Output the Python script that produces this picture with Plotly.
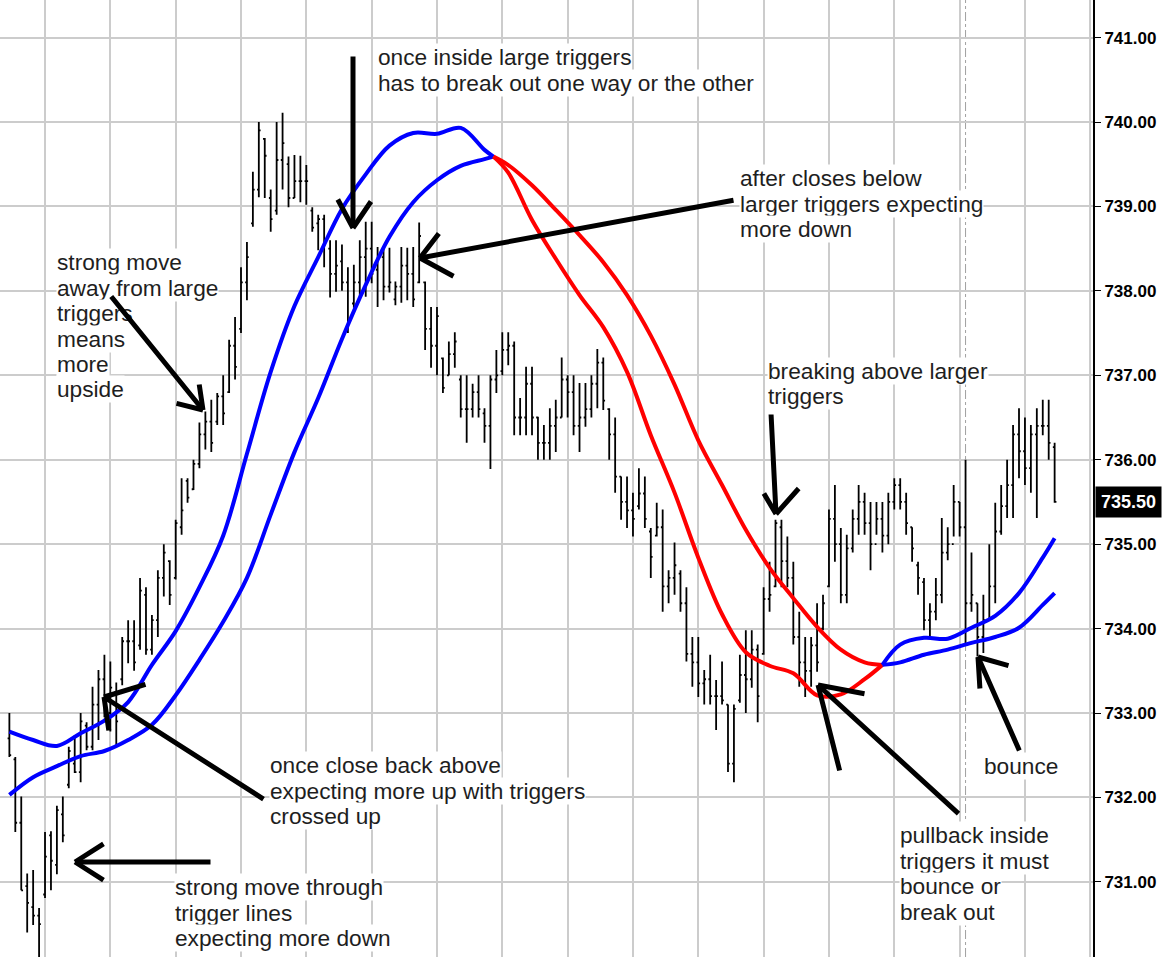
import plotly.graph_objects as go

# one bar per 5 minutes, bar index 0..176
highs = [733.00, 732.48, 732.01, 731.10, 731.14, 730.69, 731.59, 731.60, 731.90, 732.01,
         732.60, 732.74, 733.00, 732.89, 733.31, 733.51, 733.69, 733.61, 733.36, 733.90,
         734.10, 734.10, 734.60, 734.49, 734.16, 734.69, 735.00, 734.81, 735.29, 735.78,
         735.78, 736.00, 736.44, 736.57, 736.71, 736.79, 737.00, 737.42, 737.69, 738.28,
         738.58, 739.41, 740.00, 739.81, 739.20, 740.00, 740.11, 739.59, 739.61, 739.60,
         739.49, 738.99, 738.90, 738.90, 738.60, 738.60, 738.55, 738.28, 738.31, 738.60,
         738.82, 738.82, 738.52, 738.52, 738.51, 738.11, 738.52, 738.51, 738.52, 738.81,
         738.11, 737.81, 737.81, 737.21, 737.40, 737.51, 737.00, 737.00, 736.90, 737.00,
         736.61, 737.00, 737.30, 737.51, 737.51, 737.40, 736.73, 737.10, 737.10, 736.51,
         736.41, 736.61, 736.71, 737.21, 737.00, 737.00, 736.91, 736.91, 737.00, 737.31,
         737.21, 736.61, 736.50, 735.80, 735.80, 735.61, 735.90, 735.80, 735.19, 735.49,
         735.41, 734.69, 735.02, 734.69, 734.49, 733.90, 733.90, 733.51, 733.69, 733.39,
         733.61, 733.10, 733.10, 733.69, 733.98, 733.98, 733.81, 734.49, 734.79, 735.29,
         735.29, 735.09, 734.79, 734.20, 733.90, 733.90, 734.30, 734.40, 735.41, 735.70,
         735.19, 735.11, 735.41, 735.70, 735.61, 735.50, 735.50, 735.50, 735.61, 735.78,
         735.78, 735.61, 735.20, 734.79, 734.60, 734.30, 734.60, 735.31, 735.20, 735.70,
         735.50, 736.00, 734.90, 734.30, 734.40, 735.00, 735.49, 735.70, 736.00, 736.41,
         736.61, 736.50, 736.41, 736.61, 736.71, 736.71, 736.20]
lows = [732.48, 731.59, 730.90, 730.40, 730.49, 730.10, 730.81, 730.90, 731.09, 731.47,
        732.11, 732.29, 732.18, 732.56, 732.56, 732.68, 732.95, 732.78, 732.60, 733.33,
        733.59, 733.50, 733.75, 733.69, 733.69, 733.90, 734.38, 734.28, 734.58, 735.11,
        735.49, 735.64, 735.90, 736.12, 736.09, 736.41, 736.41, 736.79, 736.95, 737.50,
        737.89, 738.76, 739.11, 739.10, 738.70, 738.90, 739.20, 738.99, 739.10, 739.05,
        739.02, 738.70, 738.48, 738.28, 737.92, 737.99, 738.00, 737.50, 737.80, 737.92,
        737.93, 738.09, 737.81, 737.89, 737.98, 737.83, 737.86, 737.89, 737.81, 738.09,
        737.30, 737.09, 737.00, 736.79, 737.00, 737.09, 736.50, 736.20, 736.50, 736.50,
        736.20, 735.89, 736.79, 737.00, 737.12, 736.29, 736.29, 736.29, 736.29, 736.00,
        736.00, 736.00, 736.09, 736.50, 736.50, 736.29, 736.09, 736.39, 736.50, 736.61,
        736.59, 736.00, 735.61, 735.29, 735.19, 735.09, 735.41, 735.19, 734.60, 735.09,
        734.20, 734.30, 734.40, 734.20, 733.61, 733.31, 733.19, 733.10, 733.10, 732.80,
        733.10, 732.30, 732.18, 733.12, 733.00, 733.30, 732.89, 733.69, 734.20, 734.49,
        734.49, 734.49, 733.81, 733.31, 733.19, 733.31, 733.49, 733.98, 734.49, 734.79,
        734.30, 734.30, 734.90, 735.11, 735.11, 734.69, 735.11, 734.90, 735.00, 735.41,
        735.41, 735.11, 734.79, 734.40, 733.98, 733.90, 734.10, 734.30, 734.81, 735.09,
        735.09, 733.83, 734.20, 733.67, 733.71, 734.10, 734.30, 735.11, 735.31, 735.31,
        735.78, 735.70, 735.61, 735.31, 736.29, 736.00, 735.49]
opens = [732.70, 732.45, 731.70, 730.95, 730.70, 730.60, 730.85, 731.55, 731.20, 731.80,
         732.15, 732.40, 732.30, 732.85, 732.60, 733.10, 733.40, 733.00, 733.25, 733.40,
         733.85, 733.85, 733.80, 734.40, 733.75, 734.10, 734.60, 734.80, 734.60, 735.20,
         735.75, 735.65, 735.95, 736.30, 736.45, 736.45, 736.75, 736.80, 737.35, 737.55,
         738.10, 738.80, 739.20, 739.80, 739.10, 738.95, 739.55, 739.50, 739.10, 739.30,
         739.30, 738.95, 738.80, 738.85, 738.50, 738.20, 738.35, 738.10, 737.85, 738.10,
         738.40, 738.50, 738.25, 738.40, 738.05, 737.90, 738.05, 738.30, 738.20, 738.10,
         738.10, 737.55, 737.35, 737.20, 737.00, 737.25, 736.95, 736.60, 736.60, 736.80,
         736.55, 736.40, 736.95, 737.05, 737.30, 737.35, 736.50, 736.50, 736.90, 736.50,
         736.20, 736.20, 736.40, 736.50, 736.95, 736.80, 736.40, 736.50, 736.60, 736.90,
         737.15, 736.60, 736.30, 735.80, 735.50, 735.40, 735.45, 735.60, 735.15, 735.10,
         735.20, 734.50, 734.60, 734.65, 734.30, 733.70, 733.60, 733.35, 733.40, 733.20,
         733.20, 733.10, 732.40, 733.15, 733.45, 733.40, 733.75, 733.70, 734.35, 734.50,
         735.20, 734.80, 734.60, 733.90, 733.60, 733.50, 733.80, 734.00, 734.50, 735.30,
         735.00, 734.40, 734.95, 735.30, 735.50, 735.25, 735.00, 735.30, 735.10, 735.50,
         735.70, 735.50, 735.20, 734.75, 734.55, 734.10, 734.20, 734.40, 734.90, 735.00,
         735.50, 735.20, 734.30, 734.30, 733.90, 734.10, 734.50, 735.15, 735.45, 735.70,
         736.30, 736.10, 735.90, 736.30, 736.40, 736.40, 736.15]
closes = [732.50, 731.70, 730.90, 730.75, 730.60, 730.50, 731.30, 731.25, 731.85, 731.55,
          732.55, 732.30, 732.90, 732.60, 733.10, 733.40, 733.00, 733.30, 732.90, 733.85,
          733.85, 733.60, 734.45, 733.75, 734.10, 734.60, 734.90, 734.40, 735.25, 735.40,
          735.55, 735.95, 736.30, 736.45, 736.20, 736.75, 736.55, 737.35, 737.10, 738.10,
          738.40, 739.20, 739.90, 739.60, 738.85, 739.55, 739.75, 739.10, 739.30, 739.30,
          739.30, 738.75, 738.85, 738.55, 738.20, 738.30, 738.10, 737.65, 738.10, 738.40,
          738.50, 738.20, 738.40, 738.05, 738.10, 738.05, 738.30, 738.20, 737.90, 738.65,
          737.55, 737.35, 737.70, 736.85, 737.25, 737.40, 736.60, 736.60, 736.80, 736.60,
          736.40, 736.95, 737.00, 737.30, 737.35, 736.50, 736.50, 736.90, 736.50, 736.20,
          736.20, 736.40, 736.50, 736.95, 736.80, 736.40, 736.50, 736.60, 736.90, 737.15,
          736.70, 736.30, 735.80, 735.50, 735.40, 735.30, 735.60, 735.30, 734.85, 735.20,
          734.50, 734.60, 734.75, 734.30, 733.70, 733.60, 733.35, 733.40, 733.20, 733.20,
          733.15, 732.40, 733.05, 733.45, 733.40, 733.75, 733.20, 734.35, 734.40, 735.25,
          734.80, 734.60, 733.90, 733.60, 733.50, 733.80, 733.60, 734.30, 735.30, 735.00,
          734.40, 734.95, 735.30, 735.50, 735.25, 735.00, 735.30, 735.10, 735.50, 735.70,
          735.50, 735.25, 734.95, 734.60, 734.10, 734.20, 734.40, 734.90, 735.00, 735.50,
          735.20, 734.30, 734.40, 733.90, 734.10, 734.50, 735.15, 735.45, 735.70, 736.30,
          736.10, 735.90, 736.30, 736.40, 736.40, 736.20, 735.50]

# trigger lines (fast / slow), read every few bars
ma_x = [0, 4, 8, 12, 16, 20, 24, 28, 32, 36, 40, 44, 48, 52, 56, 60, 64, 68, 72, 76, 80,
        81.5, 84, 88, 92, 96, 100, 104, 108, 112, 116, 120, 124, 128, 132, 136, 140, 144,
        147, 150, 154, 158, 162, 166, 170, 174, 176]
fast_ma = [732.78, 732.68, 732.61, 732.76, 732.91, 733.13, 733.57, 733.97, 734.49, 735.10,
           736.07, 737.04, 737.82, 738.40, 738.97, 739.38, 739.72, 739.87, 739.86, 739.93,
           739.67, 739.59, 739.40, 738.84, 738.38, 737.95, 737.57, 737.04, 736.29, 735.61,
           734.84, 734.17, 733.72, 733.56, 733.47, 733.21, 733.22, 733.40, 733.57, 733.81,
           733.89, 733.88, 734.01, 734.15, 734.42, 734.84, 735.07]
slow_ma = [732.03, 732.24, 732.37, 732.49, 732.55, 732.68, 732.86, 733.21, 733.63, 734.08,
           734.60, 735.35, 736.09, 736.73, 737.43, 738.07, 738.64, 739.05, 739.31, 739.48,
           739.56, 739.59, 739.49, 739.25, 738.96, 738.66, 738.34, 737.95, 737.47, 736.89,
           736.23, 735.70, 735.17, 734.72, 734.36, 734.02, 733.75, 733.60, 733.57, 733.60,
           733.69, 733.75, 733.83, 733.90, 734.01, 734.28, 734.42]
# triggers crossed down at 81.5 and back up at 147
regimes = [(0, 81.5, "#0000ff"), (81.5, 147, "#ff0000"), (147, 176, "#0000ff")]

last_price = 735.50
dashed_bar = 161

W, H = 1165, 957
PW = 1093  # plot area width in px
FONT = "Liberation Sans, Arial"


def px(x, y):
    return x / PW, 1 - y / H


fig = go.Figure()
fig.add_trace(go.Ohlc(x=list(range(len(highs))), open=opens, high=highs, low=lows,
                      close=closes, tickwidth=0.3,
                      increasing=dict(line=dict(color="black", width=1.8)),
                      decreasing=dict(line=dict(color="black", width=1.8))))

for lo, hi, col in regimes:
    xs = [x for x in ma_x if lo <= x <= hi]
    for ma in (fast_ma, slow_ma):
        ys = [v for x, v in zip(ma_x, ma) if lo <= x <= hi]
        fig.add_trace(go.Scatter(x=xs, y=ys, mode="lines",
                                 line=dict(color=col, width=4, shape="spline")))

fig.add_vline(x=dashed_bar, line=dict(color="#a0a0a0", width=1, dash="dashdot"),
              layer="below")

# text notes: lines, left x, centre of first line (px)
notes = [
    (["once inside large triggers", "has to break out one way or the other"], 377, 57),
    (["after closes below", "larger triggers expecting", "more down"], 739, 178),
    (["strong move", "away from large", "triggers", "means", "more", "upside"], 56, 262),
    (["breaking above larger", "triggers"], 767, 371),
    (["once close back above", "expecting more up with triggers", "crossed up"], 269, 765),
    (["strong move through", "trigger lines", "expecting more down"], 174, 887),
    (["pullback inside", "triggers it must", "bounce or", "break out"], 899, 835),
    (["bounce"], 983, 766),
]
for lines, x, y in notes:
    for k, line in enumerate(lines):
        ax, ay = px(x, y + 25.5 * k)
        fig.add_annotation(text=line, x=ax, y=ay, xref="paper", yref="paper",
                           xanchor="left", yanchor="middle", align="left",
                           showarrow=False, bgcolor="white", borderpad=0,
                           font=dict(family=FONT, size=22.7, color="#1e1e1e"))

# arrows: tail, tip, two arms (px); drawn as annotation arrows so they sit over the text
arrows = [
    ((353, 55), (353, 228), (337, 198), (372, 200)),
    ((735, 200), (420, 258), (440, 232), (455, 277)),
    ((110, 295), (203, 410), (199, 383), (175, 403)),
    ((265, 800), (104, 697), (147, 684), (109, 732)),
    ((212, 862), (75, 862), (105, 843), (105, 881)),
    ((771, 413), (776, 514), (763, 492), (800, 487)),
    ((960, 815), (818, 685), (866, 694), (840, 772)),
    ((1020, 752), (978, 657), (1010, 666), (980, 690)),
]
for tail, tip, a1, a2 in arrows:
    tx, ty = px(*tip)
    for start in (tail, a1, a2):
        fig.add_annotation(text="", x=tx, y=ty, xref="paper", yref="paper",
                           showarrow=True, arrowhead=0, arrowwidth=5,
                           arrowcolor="black", standoff=0,
                           ax=start[0] - tip[0], ay=start[1] - tip[1])

fig.add_annotation(text="<b>%.2f</b>" % last_price, x=1, y=last_price, xref="paper",
                   yref="y", xanchor="left", yanchor="middle", xshift=2, showarrow=False,
                   bgcolor="black", borderpad=5,
                   font=dict(family=FONT, size=18, color="white"))

fig.update_layout(
    width=W, height=H, margin=dict(l=0, r=W - PW, t=0, b=0),
    paper_bgcolor="white", plot_bgcolor="white", showlegend=False,
    xaxis=dict(range=[-1.58, 182.46], tick0=6, dtick=11, showgrid=True,
               gridcolor="#cccccc", gridwidth=1.5, showticklabels=False,
               zeroline=False, rangeslider=dict(visible=False)),
    yaxis=dict(range=[730.11, 741.445], side="right", tick0=0, dtick=1,
               tickformat=".2f", showgrid=True, gridcolor="#cccccc", gridwidth=1.5,
               ticks="outside", ticklen=6, tickcolor="black", showline=True,
               linecolor="black", linewidth=2, zeroline=False,
               tickfont=dict(family=FONT, size=17, color="black", weight="bold")),
)

fig.write_html("out.html", config={"displayModeBar": False},
               post_script="document.body.style.margin='0';")
